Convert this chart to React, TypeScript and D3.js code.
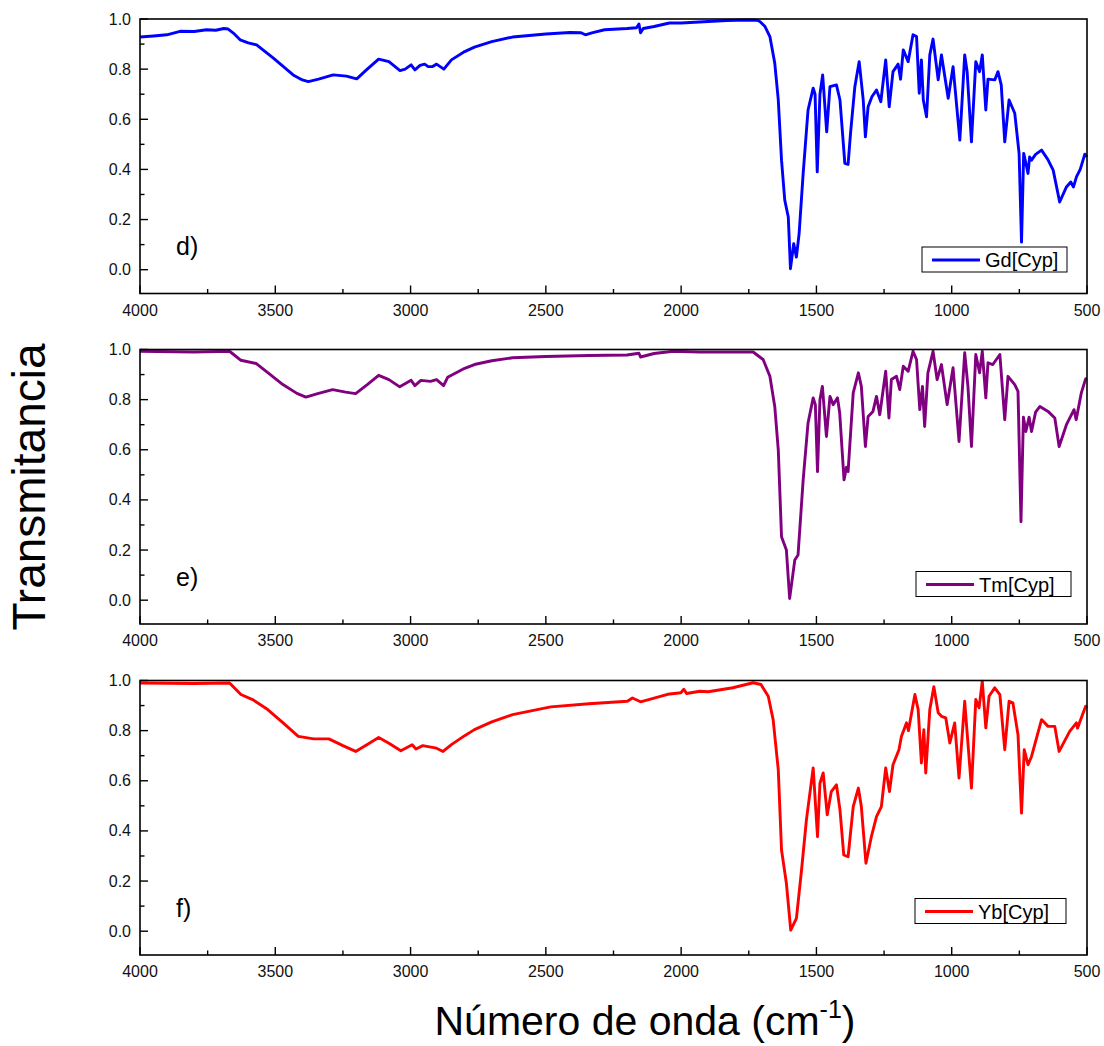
import React from 'react';
import * as d3 from 'd3';

// wavenumber (cm-1), transmittance
const gdSpectrum: [number, number][] = [
  [4000, 0.928], [3950, 0.932], [3901, 0.937], [3852, 0.951], [3800, 0.95], [3754, 0.957], [3720, 0.955],
  [3690, 0.962], [3674, 0.96], [3655, 0.944], [3630, 0.917], [3600, 0.905], [3569, 0.897], [3507, 0.844],
  [3434, 0.777], [3400, 0.757], [3378, 0.75], [3340, 0.76], [3286, 0.777], [3237, 0.772], [3199, 0.761],
  [3160, 0.8], [3118, 0.84], [3080, 0.83], [3039, 0.794], [3020, 0.8], [2998, 0.817], [2984, 0.797],
  [2965, 0.815], [2948, 0.82], [2935, 0.81], [2920, 0.81], [2904, 0.82], [2877, 0.8], [2849, 0.837],
  [2800, 0.87], [2764, 0.888], [2700, 0.91], [2623, 0.928], [2500, 0.94], [2411, 0.946], [2370, 0.945],
  [2354, 0.937], [2330, 0.945], [2283, 0.957], [2200, 0.962], [2165, 0.965], [2156, 0.98], [2150, 0.945],
  [2140, 0.962], [2100, 0.97], [2043, 0.984], [2000, 0.984], [1950, 0.987], [1900, 0.99], [1831, 0.994],
  [1758, 0.996], [1720, 0.995], [1709, 0.99], [1690, 0.97], [1672, 0.93], [1654, 0.824], [1641, 0.677],
  [1629, 0.437], [1617, 0.277], [1604, 0.21], [1596, 0.004], [1584, 0.104], [1574, 0.05], [1564, 0.144],
  [1549, 0.384], [1531, 0.637], [1512, 0.724], [1505, 0.7], [1497, 0.39], [1487, 0.7], [1477, 0.777],
  [1462, 0.55], [1450, 0.73], [1426, 0.737], [1413, 0.677], [1395, 0.424], [1383, 0.42], [1374, 0.544],
  [1358, 0.73], [1342, 0.83], [1327, 0.677], [1319, 0.53], [1309, 0.65], [1295, 0.69], [1278, 0.717],
  [1262, 0.67], [1244, 0.837], [1231, 0.65], [1217, 0.79], [1198, 0.82], [1189, 0.76], [1179, 0.877],
  [1161, 0.83], [1143, 0.937], [1130, 0.93], [1120, 0.704], [1112, 0.837], [1105, 0.677], [1093, 0.61],
  [1081, 0.857], [1069, 0.92], [1050, 0.757], [1038, 0.857], [1013, 0.684], [995, 0.81], [970, 0.517],
  [952, 0.857], [943, 0.79], [927, 0.51], [911, 0.83], [897, 0.79], [887, 0.857], [874, 0.637], [866, 0.76],
  [841, 0.757], [829, 0.79], [817, 0.737], [804, 0.51], [788, 0.677], [767, 0.624], [751, 0.464], [742, 0.11],
  [734, 0.464], [725, 0.42], [718, 0.384], [712, 0.45], [705, 0.437], [690, 0.46], [668, 0.477], [645, 0.44],
  [625, 0.397], [601, 0.27], [576, 0.33], [560, 0.35], [550, 0.33], [539, 0.37], [525, 0.4], [508, 0.461],
  [500, 0.45],
];

const tmSpectrum: [number, number][] = [
  [4000, 0.993], [3800, 0.99], [3669, 0.993], [3627, 0.957], [3570, 0.944], [3530, 0.91], [3472, 0.86],
  [3420, 0.825], [3387, 0.81], [3340, 0.825], [3288, 0.84], [3240, 0.83], [3203, 0.824], [3160, 0.86],
  [3118, 0.897], [3080, 0.88], [3040, 0.851], [2998, 0.877], [2984, 0.856], [2962, 0.877], [2926, 0.873],
  [2904, 0.88], [2878, 0.856], [2863, 0.889], [2800, 0.925], [2764, 0.94], [2700, 0.955], [2623, 0.967],
  [2500, 0.972], [2341, 0.976], [2200, 0.978], [2156, 0.985], [2150, 0.97], [2100, 0.984], [2029, 0.993],
  [1931, 0.99], [1734, 0.99], [1697, 0.96], [1672, 0.893], [1654, 0.773], [1641, 0.6], [1629, 0.253],
  [1611, 0.2], [1599, 0.007], [1580, 0.16], [1568, 0.18], [1549, 0.48], [1531, 0.707], [1512, 0.807],
  [1504, 0.78], [1496, 0.513], [1487, 0.8], [1478, 0.853], [1463, 0.653], [1450, 0.813], [1438, 0.78],
  [1422, 0.807], [1414, 0.747], [1398, 0.48], [1389, 0.53], [1383, 0.513], [1364, 0.827], [1345, 0.907],
  [1334, 0.853], [1319, 0.613], [1309, 0.733], [1291, 0.753], [1278, 0.813], [1266, 0.74], [1244, 0.913],
  [1232, 0.727], [1223, 0.88], [1204, 0.893], [1192, 0.84], [1179, 0.933], [1161, 0.913], [1143, 0.993],
  [1130, 0.96], [1118, 0.76], [1108, 0.853], [1100, 0.693], [1088, 0.907], [1069, 0.993], [1054, 0.88],
  [1038, 0.94], [1017, 0.78], [995, 0.927], [973, 0.633], [952, 0.987], [940, 0.853], [927, 0.613],
  [911, 0.98], [897, 0.907], [887, 0.993], [874, 0.807], [866, 0.947], [848, 0.94], [822, 0.98], [804, 0.72],
  [792, 0.893], [767, 0.86], [755, 0.833], [744, 0.313], [735, 0.73], [726, 0.673], [714, 0.73], [705, 0.673],
  [690, 0.75], [674, 0.773], [644, 0.753], [619, 0.727], [603, 0.613], [576, 0.7], [548, 0.76], [540, 0.72],
  [521, 0.827], [505, 0.883], [500, 0.885],
];

const ybSpectrum: [number, number][] = [
  [4000, 0.99], [3800, 0.988], [3669, 0.99], [3627, 0.944], [3584, 0.924], [3528, 0.884], [3470, 0.83],
  [3415, 0.777], [3358, 0.767], [3302, 0.767], [3250, 0.74], [3203, 0.717], [3160, 0.745], [3118, 0.773],
  [3080, 0.75], [3036, 0.72], [2994, 0.744], [2980, 0.727], [2955, 0.74], [2930, 0.735], [2904, 0.73],
  [2880, 0.717], [2849, 0.744], [2800, 0.78], [2764, 0.804], [2700, 0.835], [2623, 0.864], [2482, 0.895],
  [2341, 0.907], [2199, 0.917], [2180, 0.93], [2150, 0.915], [2050, 0.945], [2001, 0.951], [1990, 0.965],
  [1980, 0.948], [1931, 0.957], [1900, 0.955], [1809, 0.971], [1734, 0.991], [1705, 0.984], [1678, 0.937],
  [1660, 0.844], [1641, 0.644], [1629, 0.324], [1611, 0.191], [1595, 0.004], [1574, 0.051], [1555, 0.244],
  [1537, 0.444], [1512, 0.651], [1496, 0.377], [1487, 0.59], [1475, 0.631], [1460, 0.464], [1445, 0.557],
  [1426, 0.584], [1413, 0.484], [1399, 0.304], [1383, 0.297], [1364, 0.497], [1345, 0.571], [1334, 0.497],
  [1317, 0.271], [1297, 0.377], [1278, 0.457], [1260, 0.497], [1244, 0.651], [1230, 0.557], [1217, 0.664],
  [1195, 0.724], [1186, 0.777], [1167, 0.831], [1160, 0.8], [1136, 0.944], [1124, 0.884], [1112, 0.671],
  [1103, 0.804], [1096, 0.631], [1081, 0.884], [1066, 0.975], [1050, 0.871], [1038, 0.857], [1022, 0.851],
  [1007, 0.751], [989, 0.831], [973, 0.611], [952, 0.917], [942, 0.777], [927, 0.571], [911, 0.924],
  [899, 0.891], [887, 0.997], [874, 0.811], [862, 0.937], [841, 0.971], [822, 0.944], [804, 0.724],
  [788, 0.917], [774, 0.911], [755, 0.784], [742, 0.471], [732, 0.724], [718, 0.664], [705, 0.697],
  [668, 0.844], [644, 0.817], [619, 0.817], [603, 0.717], [564, 0.797], [539, 0.831], [535, 0.81],
  [505, 0.897], [500, 0.89],
];

const seriesNames = ['Gd[Cyp]', 'Tm[Cyp]', 'Yb[Cyp]'];
const panelLetters = ['d)', 'e)', 'f)'];
const seriesColors = ['#0000ff', '#800080', '#ff0000'];
const spectra = [gdSpectrum, tmSpectrum, ybSpectrum];

const xTickValues = [4000, 3500, 3000, 2500, 2000, 1500, 1000, 500];
const yTickValues = [0, 0.2, 0.4, 0.6, 0.8, 1.0];

// layout
const W = 1104;
const H = 1046;
const left = 140;
const right = 1087;
const panelTops = [19, 349.5, 680.5];
const panelH = 274.5;
const legendBoxes = [
  { x: 922, y: 228, w: 145 },
  { x: 916, y: 222, w: 155 },
  { x: 915, y: 218, w: 151 },
];
const font = '"Liberation Sans", Arial, sans-serif';

const x = d3.scaleLinear().domain([4000, 500]).range([left, right]);

const Panel = ({ idx }: { idx: number }) => {
  const top = panelTops[idx];
  const bottom = top + panelH;
  const y = d3.scaleLinear().domain([-0.095, 1.0]).range([bottom, top]);
  const line = d3.line<[number, number]>()
    .x(d => x(d[0]))
    .y(d => y(d[1]))
    .curve(d3.curveLinear);
  const minorX = xTickValues.slice(1).map(v => v + 250);
  const minorY = [0.1, 0.3, 0.5, 0.7, 0.9];
  const lg = legendBoxes[idx];

  return (
    <g>
      <rect x={left} y={top} width={right - left} height={panelH} fill="white" />
      <path d={line(spectra[idx]) || ''} fill="none" stroke={seriesColors[idx]} strokeWidth={2.9} strokeLinejoin="round" />
      <rect x={left} y={top} width={right - left} height={panelH} fill="none" stroke="#000" strokeWidth={1.6} />
      {xTickValues.map(v => (
        <g key={'x' + v}>
          <line x1={x(v)} x2={x(v)} y1={bottom} y2={bottom - 8} stroke="#000" strokeWidth={1.4} />
          <text x={x(v)} y={bottom + 22} textAnchor="middle" fontSize={16} fill="#111" fontFamily={font}>{v}</text>
        </g>
      ))}
      {minorX.map(v => (
        <line key={'mx' + v} x1={x(v)} x2={x(v)} y1={bottom} y2={bottom - 4.5} stroke="#000" strokeWidth={1.4} />
      ))}
      {yTickValues.map(v => (
        <g key={'y' + v}>
          <line x1={left} x2={left + 8} y1={y(v)} y2={y(v)} stroke="#000" strokeWidth={1.4} />
          <text x={left - 9} y={y(v) + 5.5} textAnchor="end" fontSize={16} fill="#111" fontFamily={font}>{v.toFixed(1)}</text>
        </g>
      ))}
      {minorY.map(v => (
        <line key={'my' + v} x1={left} x2={left + 4.5} y1={y(v)} y2={y(v)} stroke="#000" strokeWidth={1.4} />
      ))}
      <text x={176} y={top + 236} fontSize={25} fill="#000" fontFamily={font}>{panelLetters[idx]}</text>
      <rect x={lg.x} y={top + lg.y} width={lg.w} height={25} fill="white" stroke="#000" strokeWidth={1} />
      <line x1={lg.x + 10} x2={lg.x + 58} y1={top + lg.y + 13} y2={top + lg.y + 13} stroke={seriesColors[idx]} strokeWidth={2.9} />
      <text x={lg.x + 63} y={top + lg.y + 20} fontSize={20} fill="#000" fontFamily={font}>{seriesNames[idx]}</text>
    </g>
  );
};

export default function App() {
  return (
    <svg width={W} height={H} style={{ position: 'absolute', left: 0, top: 0, background: 'white' }}>
      <rect width={W} height={H} fill="white" />
      {spectra.map((_, i) => <Panel key={i} idx={i} />)}
      <text transform="translate(45,487) rotate(-90)" textAnchor="middle" fontSize={46} fill="#000" fontFamily={font}>
        Transmitancia
      </text>
      <text x={645} y={1035} textAnchor="middle" fontSize={41} fill="#000" fontFamily={font}>
        Número de onda (cm<tspan fontSize={25} dy={-17}>-1</tspan><tspan dy={17}>)</tspan>
      </text>
    </svg>
  );
}
